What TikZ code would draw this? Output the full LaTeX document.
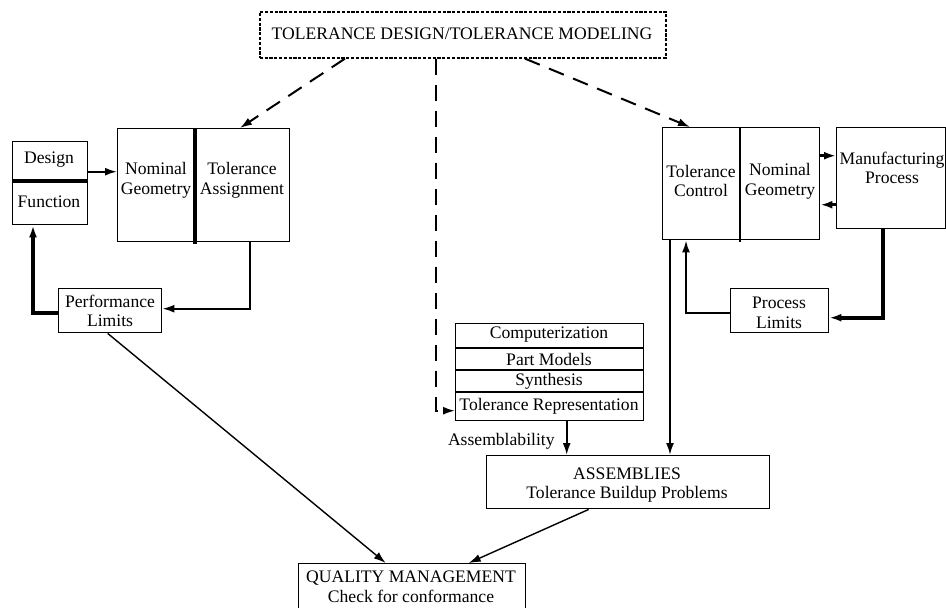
\documentclass[tikz,border=0pt]{standalone}
\usepackage{fontspec}
\setmainfont{Liberation Serif}
\usetikzlibrary{arrows.meta}
\begin{document}
\begin{tikzpicture}[x=0.5pt,y=-0.5pt,
  box/.style={draw, line width=0.7pt, inner sep=0pt, anchor=north west},
  lbl/.style={align=center, inner sep=0pt, font=\fontsize{8.8}{9.8}\selectfont},
  tip/.style={-{Latex[length=6pt,width=4pt]}},
  thinarr/.style={tip, line width=0.7pt},
  medarr/.style={tip, line width=1pt},
  thickarr/.style={tip, line width=2pt},
  dasharr/.style={tip, line width=1pt, dash pattern=on 8pt off 5pt},
  divider/.style={line width=1.6pt},
  thindivider/.style={line width=1.1pt},
  sep/.style={line width=1pt}]
\useasboundingbox (0,0) rectangle (946,607);

% ---- boxes ----
\node[box, line width=0.8pt, dash pattern=on 1.6pt off 0.8pt, minimum width=203pt, minimum height=23pt] (top) at (259,11) {};
\node[lbl] (toptxt) at (462,34) {TOLERANCE DESIGN/TOLERANCE MODELING};

\node[box, minimum width=37.5pt, minimum height=41.5pt] (DF) at (12,141) {};
\draw[divider] ([yshift=-20pt]DF.north west) -- ([yshift=-20pt]DF.north east);
\node[lbl] (design) at (49,160) {Design};
\node[lbl] (function) at (49,202) {Function};

\node[box, minimum width=86pt, minimum height=56.5pt] (NT) at (117,128) {};
\draw[divider] ([xshift=39pt]NT.north west) -- ([xshift=39pt,yshift=-1pt]NT.south west);
\node[lbl] (nomL) at (156,180) {Nominal\\Geometry};
\node[lbl] (tolA) at (242,180) {Tolerance\\Assignment};

\node[box, minimum width=51.5pt, minimum height=22pt] (PL) at (58,288) {};
\node[lbl] (pltxt) at (110,311) {Performance\\Limits};

\node[box, minimum width=78.5pt, minimum height=56pt] (TC) at (662,127) {};
\draw[thindivider] ([xshift=39pt]TC.north west) -- ([xshift=39pt,yshift=-1pt]TC.south west);
\node[lbl] (tolC) at (701,181) {Tolerance\\Control};
\node[lbl] (nomR) at (780,181) {Nominal\\Geometry};

\node[box, minimum width=54.5pt, minimum height=50.5pt] (MP) at (836,127) {};
\node[lbl] (mptxt) at (892,168) {Manufacturing\\Process};

\node[box, minimum width=49pt, minimum height=22pt] (PrL) at (730,288) {};
\node[lbl] (prltxt) at (779,313) {Process\\Limits};

\node[box, minimum width=94pt, minimum height=48.5pt] (ST) at (455,323) {};
\draw[sep] ([yshift=-12.5pt]ST.north west) -- ([yshift=-12.5pt]ST.north east);
\draw[sep] ([yshift=-23.5pt]ST.north west) -- ([yshift=-23.5pt]ST.north east);
\draw[sep] ([yshift=-34.5pt]ST.north west) -- ([yshift=-34.5pt]ST.north east);
\node[lbl] (comp) at (549,335) {Computerization};
\node[lbl] (partm) at (549,359) {Part Models};
\node[lbl] (synth) at (549,381) {Synthesis};
\node[lbl] (tolrep) at (549,406) {Tolerance Representation};

\node[box, minimum width=141.5pt, minimum height=26.5pt] (AS) at (486,455) {};
\node[lbl] (astxt) at (627,485) {ASSEMBLIES\\Tolerance Buildup Problems};

\node[box, minimum width=113.5pt, minimum height=26pt] (QM) at (298,563) {};
\node[lbl] (qmtxt) at (411,587) {QUALITY MANAGEMENT\\Check for conformance};

\node[lbl, anchor=east] (assem) at (555,441) {Assemblability};

% ---- dashed connectors ----
\draw[dasharr] ([xshift=43pt]top.south west) -- ([xshift=61.5pt]NT.north west);
\coordinate (mid) at ([xshift=88.5pt]top.south west);
\coordinate (stin) at ([yshift=-19.25pt]ST.west);
\draw[dasharr] (mid) |- (stin);
\draw[dasharr] ([xshift=133pt]top.south west) -- ([xshift=14pt]TC.north west);

% ---- left group ----
\coordinate (d1) at ([yshift=5.75pt]DF.east);
\draw[medarr] (d1) -- (d1 -| NT.west);
\draw[medarr] ([xshift=-20pt]NT.south east) |- ([yshift=1pt]PL.east);
\draw[thickarr] ([yshift=-1pt]PL.west) -| ([xshift=10.5pt]DF.south west);
\draw[thinarr] ([xshift=-1.25pt]PL.south) -- ([xshift=-13.25pt]QM.north);

% ---- right group ----
\coordinate (m1) at ([yshift=14pt]TC.east);
\draw[tip, line width=1.6pt] (m1) -- (m1 -| MP.west);
\coordinate (m2) at ([yshift=-13.25pt]MP.west);
\draw[tip, line width=1.6pt] (m2) -- (m2 -| TC.east);
\draw[thickarr] ([xshift=-4.25pt]MP.south) |- ([yshift=-3.5pt]PrL.east);
\draw[medarr] ([yshift=-1pt]PrL.west) -| ([xshift=12pt]TC.south west);
\coordinate (c13) at ([xshift=4pt]TC.south west);
\draw[medarr] (c13) -- (c13 |- AS.north);

% ---- centre ----
\coordinate (c14) at ([xshift=8.5pt]ST.south);
\draw[medarr] (c14) -- (c14 |- AS.north);
\draw[thinarr] ([xshift=-19.75pt]AS.south) -- ([xshift=28.25pt]QM.north);
\end{tikzpicture}
\end{document}
